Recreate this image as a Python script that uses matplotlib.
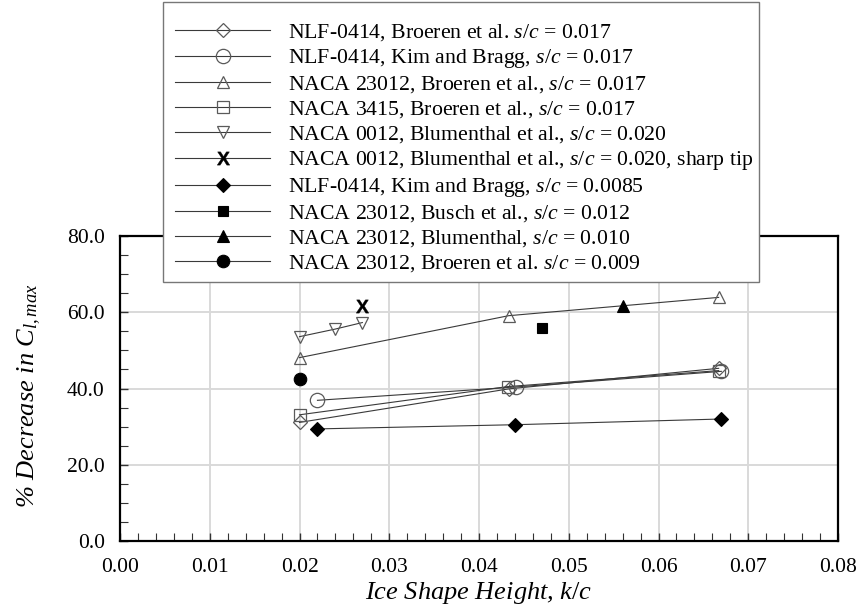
import matplotlib
matplotlib.use("Agg")
import matplotlib.pyplot as plt
from matplotlib.patches import Rectangle
from matplotlib.ticker import MultipleLocator, FormatStrFormatter

plt.rcParams['font.family'] = ['Liberation Serif', 'DejaVu Serif']
plt.rcParams['mathtext.fontset'] = 'custom'
plt.rcParams['mathtext.rm'] = 'Liberation Serif'
plt.rcParams['mathtext.it'] = 'Liberation Serif:italic'
plt.rcParams['mathtext.bf'] = 'Liberation Sans:bold'

# ---- data ----
labels = [
    r"NLF-0414, Broeren et al. $s/c$ = 0.017",
    r"NLF-0414, Kim and Bragg, $s/c$ = 0.017",
    r"NACA 23012, Broeren et al., $s/c$ = 0.017",
    r"NACA 3415, Broeren et al., $s/c$ = 0.017",
    r"NACA 0012, Blumenthal et al., $s/c$ = 0.020",
    r"NACA 0012, Blumenthal et al., $s/c$ = 0.020, sharp tip",
    r"NLF-0414, Kim and Bragg, $s/c$ = 0.0085",
    r"NACA 23012, Busch et al., $s/c$ = 0.012",
    r"NACA 23012, Blumenthal, $s/c$ = 0.010",
    r"NACA 23012, Broeren et al. $s/c$ = 0.009",
]

nlf_broeren_k = [0.020, 0.0433, 0.0667]
nlf_broeren_v = [31.1, 39.9, 45.3]
nlf_kim_k = [0.022, 0.0441, 0.0670]
nlf_kim_v = [36.9, 40.4, 44.5]
n23012_broeren_k = [0.020, 0.0433, 0.0667]
n23012_broeren_v = [48.1, 59.1, 63.9]
n3415_broeren_k = [0.020, 0.0432, 0.0667]
n3415_broeren_v = [33.1, 40.5, 44.7]
n0012_blum_k = [0.020, 0.024, 0.027]
n0012_blum_v = [53.6, 55.6, 57.3]
n0012_sharp_k = [0.027]
n0012_sharp_v = [61.7]
nlf_kim85_k = [0.022, 0.044, 0.067]
nlf_kim85_v = [29.4, 30.5, 32.0]
n23012_busch_k = [0.047]
n23012_busch_v = [55.8]
n23012_blum_k = [0.056]
n23012_blum_v = [61.7]
n23012_broeren9_k = [0.020]
n23012_broeren9_v = [42.5]

series_k = [nlf_broeren_k, nlf_kim_k, n23012_broeren_k, n3415_broeren_k, n0012_blum_k,
            n0012_sharp_k, nlf_kim85_k, n23012_busch_k, n23012_blum_k, n23012_broeren9_k]
series_v = [nlf_broeren_v, nlf_kim_v, n23012_broeren_v, n3415_broeren_v, n0012_blum_v,
            n0012_sharp_v, nlf_kim85_v, n23012_busch_v, n23012_blum_v, n23012_broeren9_v]

markers = ['D', 'o', '^', 's', 'v', r'$\mathbf{X}$', 'D', 's', '^', 'o']
sizes = [7.6, 10.3, 8.8, 8, 8.8, 9.5, 7.0, 7.7, 8.8, 9.0]
open_m = [True, True, True, True, True, False, False, False, False, False]

W, H = 859, 611
fig = plt.figure(figsize=(W / 100, H / 100), dpi=100)
ax = fig.add_axes([0.1397, 0.1146, 0.9756 - 0.1397, 0.6137 - 0.1146])

line_col = '#3a3a3a'
handles = []
for k, v, m, ms, op, lab in zip(series_k, series_v, markers, sizes, open_m, labels):
    if op:
        kw = dict(markerfacecolor='none', markeredgecolor='#5a5a5a', markeredgewidth=0.9)
    else:
        if m.startswith('$'):
            kw = dict(markerfacecolor='black', markeredgecolor='black', markeredgewidth=0.3)
        else:
            kw = dict(markerfacecolor='black', markeredgecolor='black', markeredgewidth=0.8)
    h, = ax.plot(k, v, color=line_col, lw=0.8, marker=m, markersize=ms, label=lab,
                 clip_on=False, zorder=3, **kw)
    handles.append(h)

ax.set_xlim(0, 0.08)
ax.set_ylim(0, 80)
ax.xaxis.set_major_locator(MultipleLocator(0.01))
ax.xaxis.set_minor_locator(MultipleLocator(0.002))
ax.yaxis.set_major_locator(MultipleLocator(20))
ax.yaxis.set_minor_locator(MultipleLocator(5))
ax.xaxis.set_major_formatter(FormatStrFormatter('%.2f'))
ax.yaxis.set_major_formatter(FormatStrFormatter('%.1f'))
ax.grid(True, which='major', color='#d9d9d9', lw=1.4)
ax.set_axisbelow(True)
for s in ax.spines.values():
    s.set_linewidth(1.6)
    s.set_color('black')
ax.tick_params(which='both', direction='in', top=False, right=False, labelsize=15.5, color='#333333')
ax.tick_params(axis='y', which='major', length=6, width=1, pad=11)
ax.tick_params(axis='x', which='major', length=6, width=1, pad=12.5)
ax.tick_params(which='minor', length=6, width=0.8)

ax.set_xlabel('Ice Shape Height, $k/c$', fontsize=19, fontstyle='italic', labelpad=2)
ax.set_ylabel('% Decrease in $C_{l,max}$', fontsize=19, fontstyle='italic')
ax.yaxis.set_label_coords(-0.107, 0.475)

# legend frame drawn separately
frame = Rectangle((163 / W, 1 - 282 / H), (759 - 163) / W, (282 - 2) / H,
                  transform=fig.transFigure, facecolor='white', edgecolor='#777777',
                  linewidth=1.0, zorder=4.5)
fig.patches.append(frame)

leg = fig.legend(handles=handles, labels=labels, loc='upper left',
                 bbox_to_anchor=(175 / W, 1 - 22.5 / H), borderaxespad=0,
                 fontsize=15.7, handlelength=4.36, handletextpad=0.83,
                 labelspacing=0.185, borderpad=0.0, frameon=False)
leg.set_zorder(5)

fig.savefig('out.png', dpi=100)
